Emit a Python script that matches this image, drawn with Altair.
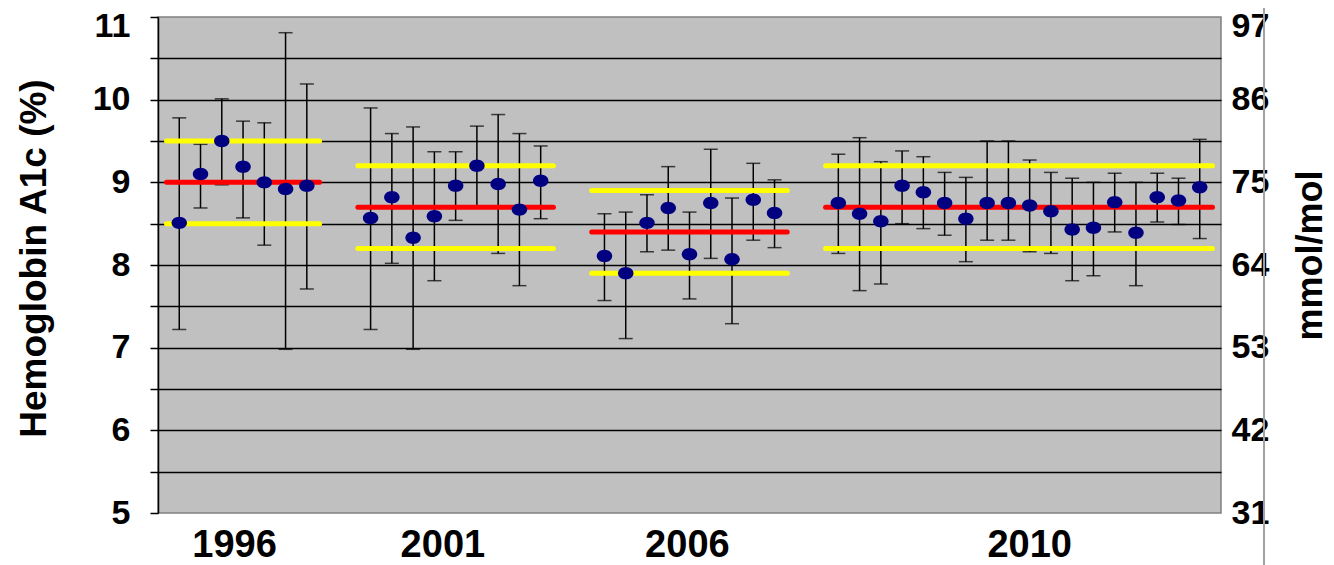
import altair as alt
import pandas as pd

# ---- data ----
idx_1996 = [1, 2, 3, 4, 5, 6, 7]
mean_1996 = [8.51, 9.10, 9.50, 9.19, 9.00, 8.92, 8.96]
hi_1996 = [9.78, 9.46, 10.01, 9.74, 9.72, 10.81, 10.19]
lo_1996 = [7.22, 8.69, 8.97, 8.57, 8.24, 6.98, 7.71]

idx_2001 = [10, 11, 12, 13, 14, 15, 16, 17, 18]
mean_2001 = [8.57, 8.82, 8.33, 8.59, 8.96, 9.20, 8.98, 8.67, 9.02]
hi_2001 = [9.90, 9.59, 9.67, 9.37, 9.37, 9.68, 9.82, 9.59, 9.44]
lo_2001 = [7.22, 8.02, 6.98, 7.81, 8.54, 8.71, 8.14, 7.75, 8.56]

idx_2006 = [21, 22, 23, 24, 25, 26, 27, 28, 29]
mean_2006 = [8.11, 7.90, 8.51, 8.69, 8.13, 8.75, 8.07, 8.79, 8.63]
hi_2006 = [8.62, 8.64, 8.85, 9.19, 8.64, 9.40, 8.81, 9.23, 9.03]
lo_2006 = [7.57, 7.11, 8.16, 8.18, 7.59, 8.08, 7.29, 8.30, 8.21]

idx_2010 = list(range(32, 50))
mean_2010 = [8.75, 8.62, 8.53, 8.96, 8.88, 8.75, 8.56, 8.75, 8.75,
             8.72, 8.65, 8.43, 8.45, 8.76, 8.39, 8.82, 8.78, 8.94]
hi_2010 = [9.34, 9.54, 9.25, 9.38, 9.31, 9.12, 9.06, 9.50, 9.50,
           9.27, 9.12, 9.05, 9.00, 9.11, 9.00, 9.11, 9.05, 9.52]
lo_2010 = [8.14, 7.69, 7.77, 8.50, 8.44, 8.36, 8.04, 8.30, 8.30,
           8.16, 8.14, 7.81, 7.87, 8.40, 7.75, 8.52, 8.49, 8.32]

# target lines per period
period_start = [0.4, 9.4, 20.4, 31.4]
period_end = [7.6, 18.6, 29.6, 49.6]
target = [9.0, 8.7, 8.4, 8.7]
upper = [9.5, 9.2, 8.9, 9.2]
lower = [8.5, 8.2, 7.9, 8.2]

years = ["1996", "2001", "2006", "2010"]
year_pos = [3.6, 13.4, 24.9, 41.0]

a1c_ticks = [5, 6, 7, 8, 9, 10, 11]
mmol_labels = [31, 42, 53, 64, 75, 86, 97]
grid_values = [5, 5.5, 6, 6.5, 7, 7.5, 8, 8.5, 9, 9.5, 10, 10.5, 11]

# ---- tables ----
pts = pd.DataFrame({
    "pos": idx_1996 + idx_2001 + idx_2006 + idx_2010,
    "mean": mean_1996 + mean_2001 + mean_2006 + mean_2010,
    "hi": hi_1996 + hi_2001 + hi_2006 + hi_2010,
    "lo": lo_1996 + lo_2001 + lo_2006 + lo_2010,
})
red_df = pd.DataFrame({"x1": period_start, "x2": period_end, "v": target})
yel_df = pd.DataFrame({"x1": period_start * 2, "x2": period_end * 2,
                       "v": upper + lower})
yr_df = pd.DataFrame({"pos": year_pos, "year": years})

FONT = "Liberation Sans"
W, H = 1063, 496

xs = alt.Scale(domain=[0, 50], nice=False, zero=False)
ys = alt.Scale(domain=[5, 11], nice=False, zero=False)

left_axis = alt.Axis(
    values=grid_values,
    labelExpr="datum.value % 1 == 0 ? format(datum.value, 'd') : ''",
    labelOverlap=False,
    grid=True,
    gridColor={"condition": {"test": "datum.value == 5 || datum.value == 11",
                             "value": "transparent"}, "value": "black"},
    gridWidth=1.3,
    domainColor="black", domainWidth=1.5,
    tickColor="black", tickSize=8, tickWidth=1.5,
    labelFont=FONT, labelFontWeight="bold", labelFontSize=34,
    labelColor="black", labelPadding=20,
    labelOffset={"condition": {"test": "datum.value == 11", "value": 9}, "value": 0},
    title="Hemoglobin A1c (%)", titleFont=FONT, titleFontWeight="bold",
    titleFontSize=37, titleColor="black", titleAngle=270,
    titleX=-124, titleY=241, titleAlign="center", titleBaseline="middle",
)

mmol_expr = "[" + ",".join("'%d'" % m for m in mmol_labels) + "][datum.value - %d]" % a1c_ticks[0]
right_axis = alt.Axis(
    orient="right", values=a1c_ticks, labelExpr=mmol_expr,
    grid=False, domain=False, ticks=False, tickSize=0, labelOverlap=False,
    labelFont=FONT, labelFontWeight="bold", labelFontSize=34,
    labelColor="black", labelPadding=10, labelAlign="left",
    labelOffset={"condition": {"test": "datum.value == 11", "value": 9}, "value": 0},
    title="mmol/mol", titleFont=FONT, titleFontWeight="bold",
    titleFontSize=36, titleColor="black", titleAngle=270,
    titleX=89, titleY=238, titleAlign="center", titleBaseline="middle",
)

bars = alt.Chart(pts).mark_rule(color="black", strokeWidth=1.5).encode(
    x=alt.X("pos:Q", scale=xs, axis=None),
    y=alt.Y("lo:Q", scale=ys, axis=left_axis),
    y2="hi:Q",
)
cap_lo = alt.Chart(pts).mark_tick(color="black", orient="horizontal",
                                  size=14, thickness=1.5).encode(
    x=alt.X("pos:Q", scale=xs, axis=None),
    y=alt.Y("lo:Q", scale=ys, axis=None),
)
cap_hi = alt.Chart(pts).mark_tick(color="black", orient="horizontal",
                                  size=14, thickness=1.5).encode(
    x=alt.X("pos:Q", scale=xs, axis=None),
    y=alt.Y("hi:Q", scale=ys, axis=None),
)
yellow = alt.Chart(yel_df).mark_rule(color="#FFFF00", strokeWidth=5,
                                     strokeCap="round").encode(
    x=alt.X("x1:Q", scale=xs, axis=None), x2="x2:Q",
    y=alt.Y("v:Q", scale=ys, axis=None),
)
red = alt.Chart(red_df).mark_rule(color="#FF0000", strokeWidth=5,
                                  strokeCap="round").encode(
    x=alt.X("x1:Q", scale=xs, axis=None), x2="x2:Q",
    y=alt.Y("v:Q", scale=ys, axis=None),
)
ellipse = "M-1,0A1,0.8,0,1,0,1,0A1,0.8,0,1,0,-1,0Z"
dots = alt.Chart(pts).mark_point(shape=ellipse, filled=True, size=240,
                                 color="#000080", opacity=1).encode(
    x=alt.X("pos:Q", scale=xs, axis=None),
    y=alt.Y("mean:Q", scale=ys, axis=right_axis),
)
year_text = alt.Chart(yr_df).mark_text(font=FONT, fontWeight="bold", fontSize=38,
                                       color="black", align="center",
                                       baseline="middle").encode(
    x=alt.X("pos:Q", scale=xs, axis=None),
    y=alt.value(H + 33),
    text="year:N",
)
side_line = alt.Chart(yr_df).mark_rule(color="#a0a0a0", strokeWidth=1.5).encode(
    x=alt.value(W + 43), y=alt.value(-9), y2=alt.value(H + 60),
)

chart = alt.layer(bars, cap_lo, cap_hi, yellow, red, dots, year_text, side_line).resolve_scale(
    y="independent"
).properties(
    width=W, height=H,
    autosize=alt.AutoSizeParams(type="none"),
    padding={"left": 158, "top": 17, "right": 113, "bottom": 52},
    background="white",
).configure_view(fill="#C0C0C0", stroke="#808080", strokeWidth=1.5)

chart.save("out.html", embed_options={"renderer": "svg", "actions": False})
